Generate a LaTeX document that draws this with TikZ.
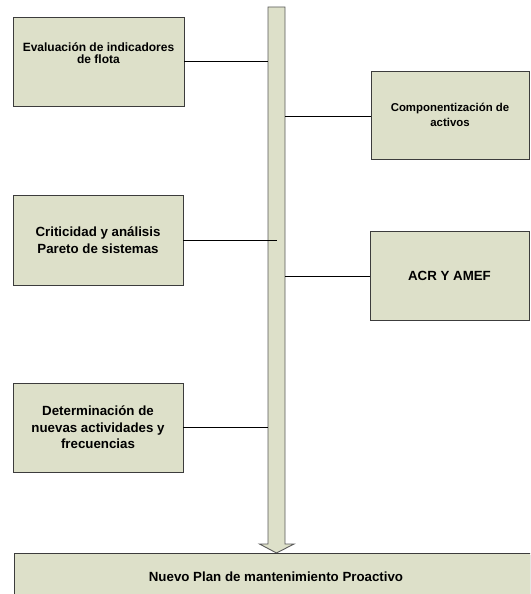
\documentclass[tikz,border=0pt]{standalone}
\usepackage{fontspec}
\setmainfont{Liberation Sans}
\usetikzlibrary{shadows}
\definecolor{boxfill}{RGB}{221,224,201}
\definecolor{boxline}{RGB}{60,60,60}
\definecolor{arrowline}{RGB}{90,90,90}
\tikzset{
  stagebox/.style={draw=boxline, line width=0.9pt, fill=boxfill, rectangle,
    align=center, inner sep=0pt, font=\bfseries\fontsize{13.3}{17}\selectfont,
    drop shadow={shadow xshift=1.1pt, shadow yshift=-1.1pt, fill=black!75, opacity=1}},
  link/.style={draw=black, line width=0.9pt},
  flowarrow/.style={draw=arrowline, line width=0.9pt, fill=boxfill}
}
\begin{document}
\begin{tikzpicture}[x=1pt,y=-1pt]
  \useasboundingbox (0,0) rectangle (530,594);
  \fill[white] (0,0) rectangle (530,594);
  \clip (0,0) rectangle (530,594);

  % central process arrow
  \draw[flowarrow] (268,7) -- (285,7) -- (285,544) -- (294,544) -- (276.5,553)
    -- (259.5,544) -- (268,544) -- cycle;
  \coordinate (sL1) at (268,61);
  \coordinate (sR2) at (285,116);
  \coordinate (sM3) at (277,240);
  \coordinate (sR4) at (285,276);
  \coordinate (sL5) at (268,427);

  % stages
  \node[stagebox, minimum width=171pt, minimum height=89pt,
        font=\bfseries\fontsize{12}{12}\selectfont] (b1) at (98.5,61.5)
        {Evaluación de indicadores\\de flota\\[4pt]};
  \node[stagebox, minimum width=158pt, minimum height=88pt,
        font=\bfseries\fontsize{11.4}{15.5}\selectfont] (b2) at (450,115)
        {Componentización de\\activos};
  \node[stagebox, minimum width=170pt, minimum height=90pt] (b3) at (98,240)
        {Criticidad y análisis\\Pareto de sistemas};
  \node[stagebox, minimum width=159pt, minimum height=89pt] (b4) at (449.5,275.5)
        {ACR Y AMEF};
  \node[stagebox, minimum width=170pt, minimum height=89pt,
        font=\bfseries\fontsize{13.3}{16.5}\selectfont] (b5) at (98,427.5)
        {Determinación de\\nuevas actividades y\\frecuencias};
  \node[stagebox, minimum width=540pt, minimum height=60pt, anchor=north west,
        text height=0pt, text depth=0pt] (b6) at (13.5,553) {};
  \node[font=\bfseries\fontsize{13.3}{16}\selectfont, inner sep=0pt] (t6) at (276,577)
        {Nuevo Plan de mantenimiento Proactivo};

  % links between stages and the arrow
  \draw[link] (b1.east |- sL1) -- (sL1);
  \draw[link] (sR2) -- (b2.west |- sR2);
  \draw[link] (b3.east |- sM3) -- (sM3);
  \draw[link] (sR4) -- (b4.west |- sR4);
  \draw[link] (b5.east |- sL5) -- (sL5);
\end{tikzpicture}
\end{document}
